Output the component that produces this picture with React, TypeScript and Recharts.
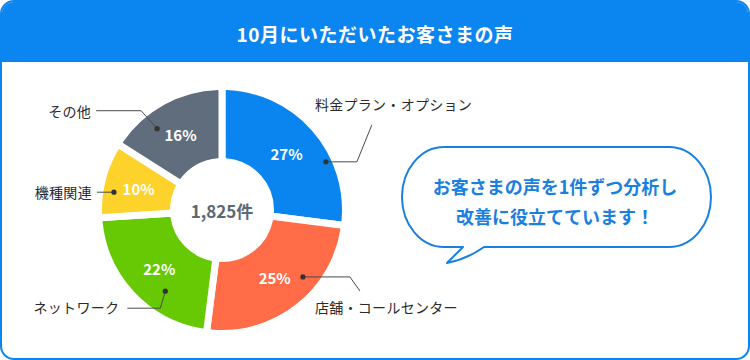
import React from 'react';
import { PieChart, Pie, Cell } from 'recharts';

const categories = ['料金プラン・オプション', '店舗・コールセンター', 'ネットワーク', '機種関連', 'その他'];
const shares = [27, 25, 22, 10, 16];
const colors = ['#0a84ee', '#ff6c47', '#67c903', '#fdd22a', '#5f6d7c'];
const totalLabel = '1,825件';
const title = '10月にいただいたお客さまの声';
const bubbleLines = ['お客さまの声を1件ずつ分析し', '改善に役立てています！'];

// where each leader line starts inside its slice (t = share of the slice's sweep, r = radius)
// and how it bends from there to its label
const callouts = [
  { t: 0.67, r: 114.5, path: [[31, 0], [46, -37]], text: [-11, -58], anchor: 'start' },
  { t: 0.36, r: 105, path: [[47, 0], [57, 14]], text: [12, 30], anchor: 'start' },
  { t: 0.35, r: 99, path: [[-5, 17], [-38, 17]], text: [-46, 16], anchor: 'end' },
  { t: 0.36, r: 109.5, path: [[-17, 0]], text: [-22, 0], anchor: 'end' },
  { t: 0.33, r: 104, path: [[-16, -18], [-61, -18]], text: [-66, -18], anchor: 'end' },
];

const data = categories.map((name, i) => ({ name, value: shares[i] }));

const FONT = "'Noto Sans CJK JP', 'Noto Sans', sans-serif";
const BLUE = '#0b85ef';
const RAD = Math.PI / 180;

const renderLabel = (props: any) => {
  const { cx, cy, innerRadius, outerRadius, midAngle, startAngle, endAngle, index, value } = props;
  const mid = (innerRadius + outerRadius) / 2;
  const px = cx + mid * Math.cos(-midAngle * RAD);
  const py = cy + mid * Math.sin(-midAngle * RAD);

  const c = callouts[index];
  const a = startAngle + c.t * (endAngle - startAngle);
  const dx = cx + c.r * Math.cos(-a * RAD);
  const dy = cy + c.r * Math.sin(-a * RAD);
  const pts = [[dx, dy], ...c.path.map(([ox, oy]) => [dx + ox, dy + oy])];

  return (
    <g>
      {index === 0 && (
        <text x={cx} y={cy} textAnchor="middle" dominantBaseline="central"
          fill="#5b6877" fontSize={17} fontWeight={700} fontFamily={FONT}>
          {totalLabel}
        </text>
      )}
      <text x={px} y={py} textAnchor="middle" dominantBaseline="central"
        fill="#fff" fontSize={15} fontWeight={700} fontFamily={FONT}>
        {value}%
      </text>
      <polyline points={pts.map(p => p.join(',')).join(' ')} fill="none" stroke="#4a4a4a" strokeWidth={1} />
      <circle cx={dx} cy={dy} r={2.6} fill="#333" />
      <text x={dx + c.text[0]} y={dy + c.text[1]} textAnchor={c.anchor} dominantBaseline="central"
        fill="#2b2b2b" fontSize={14} fontFamily={FONT} letterSpacing={0.3}>
        {props.name}
      </text>
    </g>
  );
};

const App = () => {
  return (
    <div style={{ position: 'relative', width: 750, height: 360, fontFamily: FONT }}>
      <style>{'body{margin:0}'}</style>
      <div style={{
        position: 'absolute', left: 0, top: 0, width: 750, height: 360, boxSizing: 'border-box',
        border: `2px solid ${BLUE}`, borderRadius: 14, background: '#fff', overflow: 'hidden',
      }}>
        <div style={{
          height: 58, background: BLUE, color: '#fff', fontSize: 19, fontWeight: 700,
          letterSpacing: 0.5, display: 'flex', alignItems: 'center', justifyContent: 'center', paddingTop: 2,
        }}>
          {title}
        </div>
      </div>

      <svg width={750} height={360} style={{ position: 'absolute', left: 0, top: 0 }}>
        <path
          d="M 484 247 L 669 247 A 42 50 0 0 0 711 197 A 42 50 0 0 0 669 147 L 444 147 A 42 50 0 0 0 402 197 A 42 50 0 0 0 444 247 L 463 247 L 447 263 Q 467 259 484 247 Z"
          fill="#fff" stroke="#1a80e0" strokeWidth={2} strokeLinejoin="round"
        />
        {bubbleLines.map((line, i) => (
          <text key={i} x={555} y={186 + i * 30} textAnchor="middle" dominantBaseline="central"
            fill="#1a80e0" fontSize={18} fontWeight={700} fontFamily={FONT}>
            {line}
          </text>
        ))}
      </svg>

      <div style={{ position: 'absolute', left: 0, top: 0 }}>
        <PieChart width={750} height={360} margin={{ top: 0, right: 0, bottom: 0, left: 0 }}>
          <Pie
            data={data}
            dataKey="value"
            nameKey="name"
            cx={222}
            cy={210}
            innerRadius={48.5}
            outerRadius={123.5}
            startAngle={90}
            endAngle={-270}
            stroke="#fff"
            strokeWidth={7}
            cornerRadius={4}
            label={renderLabel}
            labelLine={false}
            isAnimationActive={false}
          >
            {data.map((d, i) => (
              <Cell key={d.name} fill={colors[i]} />
            ))}
          </Pie>
        </PieChart>
      </div>
    </div>
  );
};

export default App;
